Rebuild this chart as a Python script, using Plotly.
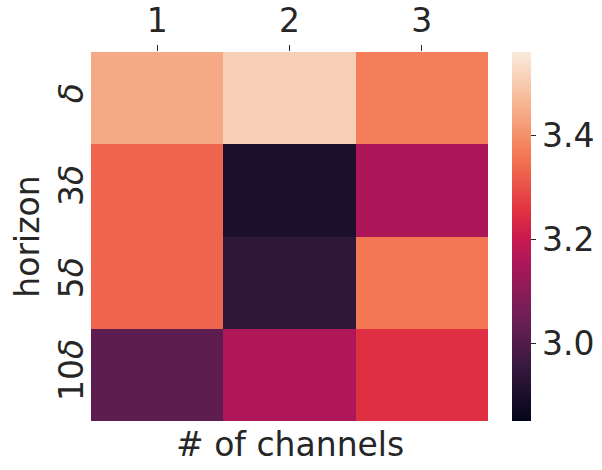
import plotly.graph_objects as go

channels = ["1", "2", "3"]
horizons = ["<i>δ</i>", "3<i>δ</i>", "5<i>δ</i>", "10<i>δ</i>"]
values = [
    [3.44, 3.51, 3.37],
    [3.33, 2.90, 3.155],
    [3.33, 2.94, 3.36],
    [3.02, 3.16, 3.25],
]

# approximate seaborn "rocket" colormap
rocket = [
    [0.0, "#03051a"],
    [1 / 7, "#35193e"],
    [2 / 7, "#701f57"],
    [3 / 7, "#ad1759"],
    [0.5, "#cb1b4f"],
    [4 / 7, "#e13342"],
    [5 / 7, "#f37651"],
    [6 / 7, "#f6b48f"],
    [1.0, "#faebdd"],
]

txt = "#262626"
font = dict(family="DejaVu Sans", size=33, color=txt)

fig = go.Figure(go.Heatmap(
    z=values,
    x=channels,
    y=horizons,
    colorscale=rocket,
    zmin=2.85,
    zmax=3.56,
    colorbar=dict(
        thickness=19,
        lenmode="pixels",
        len=369,
        x=1.0605,
        xanchor="left",
        xpad=0,
        y=0.5,
        ypad=0,
        outlinewidth=0,
        tickvals=[3.0, 3.2, 3.4],
        ticktext=["3.0", "3.2", "3.4"],
        ticks="outside",
        ticklen=5,
        tickwidth=1.2,
        tickcolor=txt,
        tickfont=font,
    ),
))

fig.update_layout(
    width=602,
    height=470,
    margin=dict(l=91, r=114, t=52, b=49, autoexpand=False),
    paper_bgcolor="white",
    plot_bgcolor="white",
    font=font,
    xaxis=dict(
        side="top",
        automargin=False,
        ticks="outside",
        ticklen=6,
        tickwidth=1.2,
        tickcolor=txt,
        showgrid=False,
        zeroline=False,
        tickfont=font,
    ),
    yaxis=dict(
        autorange="reversed",
        automargin=False,
        tickangle=-90,
        showgrid=False,
        zeroline=False,
        ticks="",
        tickfont=font,
        title=dict(text="horizon", font=font, standoff=2),
    ),
    annotations=[dict(
        text="# of channels",
        xref="paper", yref="paper",
        x=0.5, y=0,
        yshift=-2,
        xanchor="center", yanchor="top",
        showarrow=False,
        font=font,
    )],
)

# drop the default 8px page margin so the figure sits at the window's corner
fig.write_html(
    "out.html",
    config={"displayModeBar": False},
    post_script="document.body.style.margin='0px';",
)
